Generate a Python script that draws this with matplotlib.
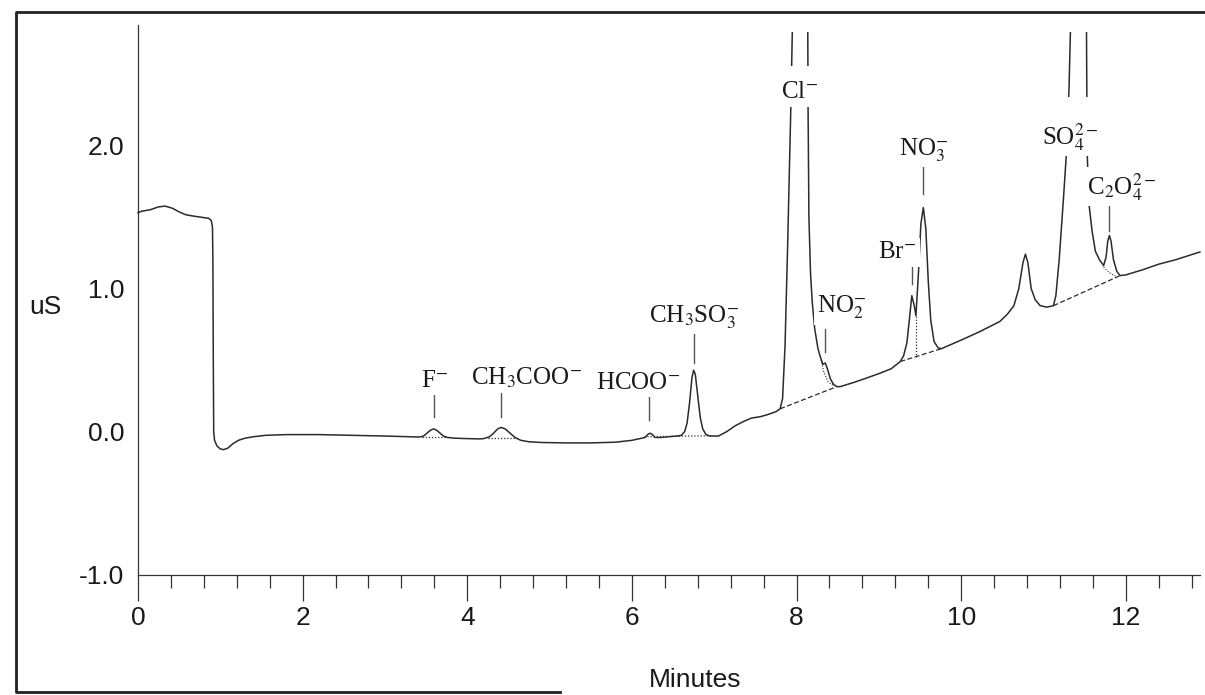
import matplotlib
matplotlib.use('Agg')
import matplotlib.pyplot as plt
from matplotlib.patches import Rectangle
from matplotlib.ticker import MultipleLocator, FixedLocator, FixedFormatter
from matplotlib.lines import Line2D

plt.rcParams['mathtext.fontset'] = 'stix'

# traced chromatogram (minutes, uS)
time_min = [0.00, 0.05, 0.15, 0.25, 0.33, 0.42, 0.50, 0.58, 0.68, 0.80, 0.86, 0.89,
            0.905, 0.91, 0.915, 0.92, 0.93, 0.96, 1.00, 1.04, 1.09, 1.15, 1.22, 1.30,
            1.40, 1.55, 1.80, 2.20, 2.60, 3.00, 3.30, 3.42,
            3.47, 3.51, 3.55, 3.59, 3.63, 3.67, 3.71, 3.76, 3.85, 4.00, 4.15,
            4.20, 4.27, 4.32, 4.37, 4.41, 4.46, 4.52, 4.58, 4.65, 4.75, 4.90, 5.20,
            5.50, 5.80, 6.00, 6.12,
            6.16, 6.19, 6.22, 6.25, 6.28, 6.35, 6.45, 6.55,
            6.60, 6.64, 6.67, 6.70, 6.73, 6.75, 6.77, 6.80, 6.83, 6.86, 6.90, 6.95, 7.05,
            7.15, 7.25, 7.35, 7.45, 7.56, 7.65, 7.75, 7.80,
            7.83, 7.86, 7.89, 7.93, 7.955, 8.045, 8.135, 8.14, 8.15, 8.17, 8.19, 8.22,
            8.26, 8.29, 8.32, 8.35, 8.38, 8.41, 8.45, 8.49,
            8.53, 8.70, 8.90, 9.02, 9.15, 9.26,
            9.30, 9.34, 9.37, 9.40, 9.43, 9.45, 9.48, 9.51, 9.54, 9.57, 9.60, 9.63,
            9.67, 9.72, 9.76,
            10.00, 10.23, 10.47, 10.56, 10.64, 10.70, 10.75, 10.78, 10.81, 10.85,
            10.90, 10.96, 11.04, 11.12,
            11.15, 11.19, 11.24, 11.28, 11.31, 11.335, 11.43, 11.52, 11.53, 11.55,
            11.59, 11.63, 11.68, 11.73,
            11.76, 11.78, 11.80, 11.82, 11.85, 11.89, 11.93,
            12.00, 12.20, 12.40, 12.60, 12.82, 12.90]
signal_us = [1.53, 1.54, 1.55, 1.57, 1.575, 1.56, 1.535, 1.515, 1.505, 1.495, 1.49, 1.475,
             1.43, 1.20, 0.50, 0.00, -0.06, -0.10, -0.12, -0.125, -0.115, -0.085, -0.06, -0.045,
             -0.035, -0.025, -0.02, -0.02, -0.025, -0.03, -0.035, -0.037,
             -0.03, -0.01, 0.01, 0.02, 0.01, -0.01, -0.03, -0.04, -0.045, -0.048, -0.05,
             -0.048, -0.035, -0.01, 0.02, 0.03, 0.02, -0.01, -0.04, -0.06, -0.07, -0.075, -0.078,
             -0.078, -0.073, -0.06, -0.045,
             -0.04, -0.02, -0.01, -0.02, -0.04, -0.04, -0.035, -0.03,
             -0.025, 0.00, 0.06, 0.20, 0.38, 0.43, 0.40, 0.25, 0.10, 0.02, -0.02, -0.03, -0.03,
             0.00, 0.04, 0.07, 0.095, 0.105, 0.12, 0.14, 0.16,
             0.23, 0.60, 1.26, 2.25, 3.00, 4.50, 3.00, 2.25, 1.50, 1.10, 0.91, 0.72,
             0.58, 0.52, 0.47, 0.48, 0.43, 0.37, 0.33, 0.315,
             0.315, 0.345, 0.385, 0.41, 0.44, 0.49,
             0.53, 0.62, 0.78, 0.95, 0.88, 0.81, 1.10, 1.45, 1.565, 1.42, 1.05, 0.78,
             0.63, 0.585, 0.58,
             0.64, 0.70, 0.77, 0.82, 0.88, 1.00, 1.18, 1.24, 1.18, 1.00,
             0.92, 0.88, 0.87, 0.88,
             0.95, 1.20, 1.61, 1.96, 2.40, 3.00, 4.50, 3.00, 1.96, 1.60,
             1.40, 1.26, 1.20, 1.16,
             1.22, 1.33, 1.37, 1.33, 1.20, 1.12, 1.09,
             1.095, 1.13, 1.17, 1.20, 1.24, 1.255]

# integration baselines drawn under the peaks
dotted_x = [[3.45, 3.75], [4.25, 4.62], [6.15, 6.98], [9.45, 9.45]]
dotted_y = [[-0.036, -0.036], [-0.046, -0.046], [-0.035, -0.028], [0.81, 0.525]]
dashed_x = [[7.80, 8.49], [9.26, 9.76], [11.12, 11.93]]
dashed_y = [[0.16, 0.315], [0.49, 0.58], [0.88, 1.09]]
shoulder_x = [[8.29, 8.33, 8.38, 8.45], [11.73, 11.80, 11.88]]
shoulder_y = [[0.52, 0.42, 0.35, 0.32], [1.15, 1.11, 1.085]]

# peak names
ion_labels = [r'F$^{-}$', r'CH$_3$COO$^{-}$', r'HCOO$^{-}$', r'CH$_3$SO$_3^{-}$', r'Cl$^{-}$',
              r'NO$_2^{-}$', r'Br$^{-}$', r'NO$_3^{-}$', r'SO$_4^{2-}$', r'C$_2$O$_4^{2-}$']
label_x = [3.60, 4.72, 6.07, 6.75, 8.03, 8.55, 9.22, 9.54, 11.32, 11.95]
label_y = [0.315, 0.33, 0.30, 0.765, 2.33, 0.83, 1.21, 1.93, 2.01, 1.66]
tick_x = [3.59, 4.41, 6.21, 6.75, 8.35, 9.40, 9.54, 11.79]
tick_lo = [0.105, 0.105, 0.085, 0.48, 0.56, 1.03, 1.66, 1.40]
tick_hi = [0.26, 0.27, 0.245, 0.68, 0.72, 1.19, 1.85, 1.59]

# breaks in the off-scale peaks around their names
gap_x = [7.90, 11.24]
gap_w = [0.30, 0.36]
gap_y = [2.27, 1.96]
gap_h = [0.28, 0.38]

ytick_vals = [-1.0, 0.0, 1.0, 2.0]
ytick_text = ['-1.0', '0.0', '1.0', '2.0']

fig = plt.figure(figsize=(12.05, 6.95), dpi=100)
ax = fig.add_axes([0.1145, 0.1727, 0.8813, 0.7914])

ink = '#2b2b2b'
line, = ax.plot(time_min, signal_us, color=ink, lw=1.1, zorder=3)
line.set_clip_path(Rectangle((-1, -2), 20, 4.79, transform=ax.transData))

for x, w, y, h in zip(gap_x, gap_w, gap_y, gap_h):
    ax.add_patch(Rectangle((x, y), w, h, facecolor='white', edgecolor='none', zorder=4))

for xs, ys in zip(dotted_x, dotted_y):
    ax.plot(xs, ys, color=ink, lw=0.9, ls=(0, (1, 1.5)), zorder=2)
for xs, ys in zip(dashed_x, dashed_y):
    ax.plot(xs, ys, color=ink, lw=0.9, ls=(0, (4, 2)), zorder=2)
for xs, ys in zip(shoulder_x, shoulder_y):
    ax.plot(xs, ys, color=ink, lw=0.8, ls=(0, (1, 1.5)), zorder=2)

for x, lo, hi in zip(tick_x, tick_lo, tick_hi):
    ax.plot([x, x], [lo, hi], color='#555555', lw=1.0, zorder=2)

for s, x, y in zip(ion_labels, label_x, label_y):
    ax.text(x, y, s, ha='center', va='baseline', fontsize=18, color='#1a1a1a',
            family='Liberation Serif', zorder=5,
            bbox=dict(facecolor='white', edgecolor='none', pad=2.5))

ax.set_xlim(0, 12.9)
ax.set_ylim(-1, 2.84)
for side in ['top', 'right']:
    ax.spines[side].set_visible(False)
for side in ['left', 'bottom']:
    ax.spines[side].set_color('#333333')
    ax.spines[side].set_linewidth(0.9)

ax.xaxis.set_major_locator(MultipleLocator(2))
ax.xaxis.set_minor_locator(MultipleLocator(0.4))
ax.yaxis.set_major_locator(FixedLocator(ytick_vals))
ax.yaxis.set_major_formatter(FixedFormatter(ytick_text))
ax.tick_params(axis='x', which='major', direction='out', length=19, width=0.9,
               color='#333333', pad=3, labelsize=19)
ax.tick_params(axis='x', which='minor', direction='out', length=9.5, width=0.9,
               color='#333333')
ax.tick_params(axis='y', length=0, pad=10, labelsize=19)
for lab in ax.get_xticklabels() + ax.get_yticklabels():
    lab.set_family('Liberation Sans')
    lab.set_color('#1a1a1a')

fig.text(45 / 1205, 1 - 307 / 695, 'uS', ha='center', va='center', fontsize=19,
         family='Liberation Sans', color='#1a1a1a')
fig.text(695 / 1205, 1 - 668 / 695, 'Minutes', ha='center', va='top', fontsize=19,
         family='Liberation Sans', color='#1a1a1a')

# scanned page frame
fig.add_artist(Line2D([1.0, 0.0133, 0.0133, 0.465], [0.983, 0.983, 0.004, 0.004],
                      transform=fig.transFigure, color='#222222', lw=2.0))

fig.savefig('out.png', dpi=100)
